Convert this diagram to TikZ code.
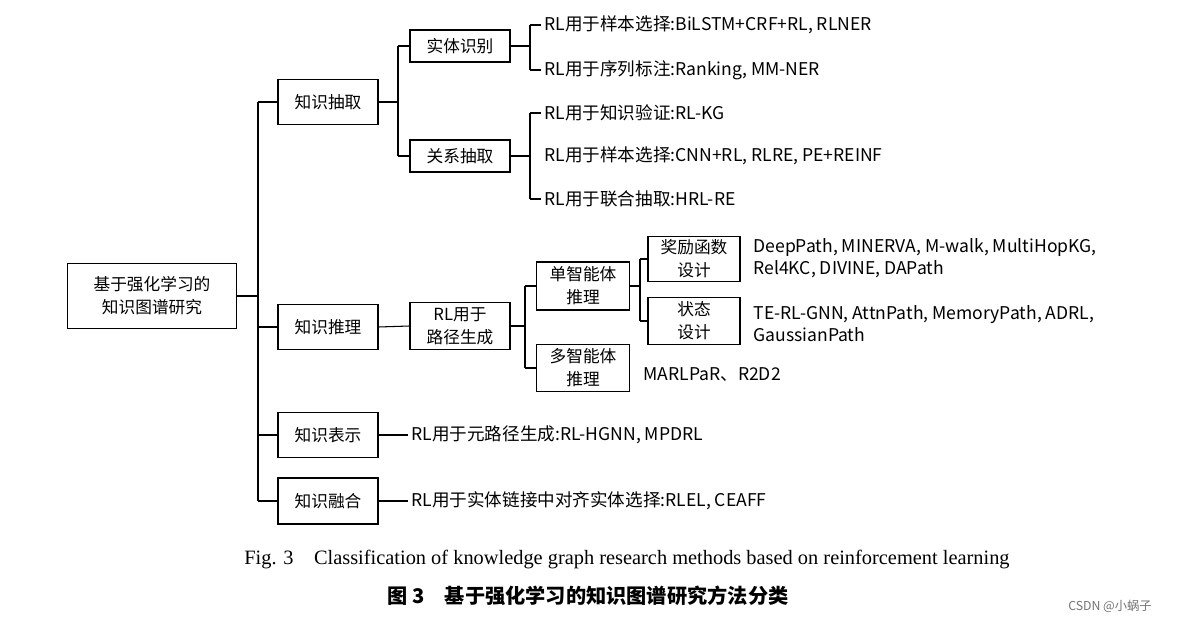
\documentclass[tikz,border=0pt]{standalone}
\usepackage{fontspec}
\setmainfont{Noto Sans CJK SC}
\newfontfamily\capfont{Liberation Serif}
\usetikzlibrary{positioning}
\tikzstyle{box} = [rectangle, draw=black, semithick, align=center, inner sep=0pt, font=\fontsize{9.5}{13}\selectfont]
\tikzstyle{leaf} = [anchor=west, inner sep=0pt, outer xsep=2pt, align=left, font=\fontsize{10}{12.5}\selectfont]
\tikzstyle{br} = [semithick]
\begin{document}
\begin{tikzpicture}[x=0.02cm,y=-0.02cm]
    \useasboundingbox (0,0) rectangle (1183,621);
    \node (root) [box, minimum width=3.38cm, minimum height=1.3cm] at (152,296) {基于强化学习的\\知识图谱研究};
    \node (Extr) [box, minimum width=2cm, minimum height=0.9cm] at (328,102) {知识抽取};
    \node (Reas) [box, minimum width=2cm, minimum height=0.9cm] at (328,327) {知识推理};
    \node (Repr) [box, minimum width=2cm, minimum height=0.9cm] at (328,435) {知识表示};
    \node (Fuse) [box, minimum width=2cm, minimum height=0.92cm] at (328,501) {知识融合};
    \node (Ent) [box, minimum width=2cm, minimum height=0.64cm] at (460,46) {实体识别};
    \node (Rel) [box, minimum width=2cm, minimum height=0.64cm] at (460,156) {关系抽取};
    \node (Path) [box, minimum width=2cm, minimum height=0.94cm] at (460,326) {RL用于\\路径生成};
    \node (Single) [box, minimum width=1.86cm, minimum height=0.96cm] at (583,286) {单智能体\\推理};
    \node (Multi) [box, minimum width=1.86cm, minimum height=0.94cm] at (583,368) {多智能体\\推理};
    \node (Reward) [box, minimum width=1.84cm, minimum height=0.9cm] at (694,259) {奖励函数\\设计};
    \node (State) [box, minimum width=1.84cm, minimum height=0.94cm] at (694,321) {状态\\设计};
    % leaves
    \node (e1) [leaf] at (541,25) {RL用于样本选择:BiLSTM+CRF+RL, RLNER};
    \node (e2) [leaf] at (541,70) {RL用于序列标注:Ranking, MM-NER};
    \node (r1) [leaf] at (541,113) {RL用于知识验证:RL-KG};
    \node (r2) [leaf] at (541,156) {RL用于样本选择:CNN+RL, RLRE, PE+REINF};
    \node (r3) [leaf] at (541,199) {RL用于联合抽取:HRL-RE};
    \node (w1) [leaf] at (750,258) {DeepPath, MINERVA, M-walk, MultiHopKG,\\Rel4KC, DIVINE, DAPath};
    \node (s1) [leaf] at (750,324) {TE-RL-GNN, AttnPath, MemoryPath, ADRL,\\GaussianPath};
    \node (m1) [leaf] at (640,375) {MARLPaR、R2D2};
    \node (p1) [leaf] at (408,435) {RL用于元路径生成:RL-HGNN, MPDRL};
    \node (f1) [leaf] at (408,501) {RL用于实体链接中对齐实体选择:RLEL, CEAFF};
    % tree
    \draw[br] (root.east) -- (258,296);
    \draw[br] (258,102) -- (258,501);
    \foreach \n in {Extr,Reas,Repr,Fuse} \draw[br] (\n.west) -- (\n.west -| 258,0);
    \draw[br] (Extr.east) -- (398,102);
    \draw[br] (398,46) -- (398,156);
    \draw[br] (Ent.west) -- (Ent.west -| 398,0);
    \draw[br] (Rel.west) -- (Rel.west -| 398,0);
    \draw[br] (Ent.east) -- (530,46);
    \draw[br] (530,25) -- (530,70);
    \foreach \n in {e1,e2} \draw[br] (\n.west -| 530,0) -- (\n.west);
    \draw[br] (Rel.east) -- (530,156);
    \draw[br] (530,113) -- (530,199);
    \foreach \n in {r1,r3} \draw[br] (\n.west -| 530,0) -- (\n.west);
    \draw[br] (Reas.east) -- (Path.west);
    \draw[br] (Path.east) -- (525,326);
    \draw[br] (525,286) -- (525,368);
    \draw[br] (Single.west) -- (Single.west -| 525,0);
    \draw[br] (Multi.west) -- (Multi.west -| 525,0);
    \draw[br] (Single.east) -- (640,286);
    \draw[br] (640,259) -- (640,321);
    \draw[br] (Reward.west) -- (Reward.west -| 640,0);
    \draw[br] (State.west) -- (State.west -| 640,0);
    \draw[br] (Repr.east) -- (p1.west);
    \draw[br] (Fuse.east) -- (f1.west);
    % captions
    \node (capen) [font=\capfont\fontsize{11.6}{13}\selectfont] at (627,560) {Fig. 3\quad Classification of knowledge graph research methods based on reinforcement learning};
    \node (capzh) [font=\bfseries\fontsize{11.5}{13}\selectfont] at (588,596) {图 3\quad 基于强化学习的知识图谱研究方法分类};
    \node (mark) [font=\fontsize{7}{8}\selectfont, text=black!55] at (1110,606) {CSDN @小蜗子};
\end{tikzpicture}
\end{document}
